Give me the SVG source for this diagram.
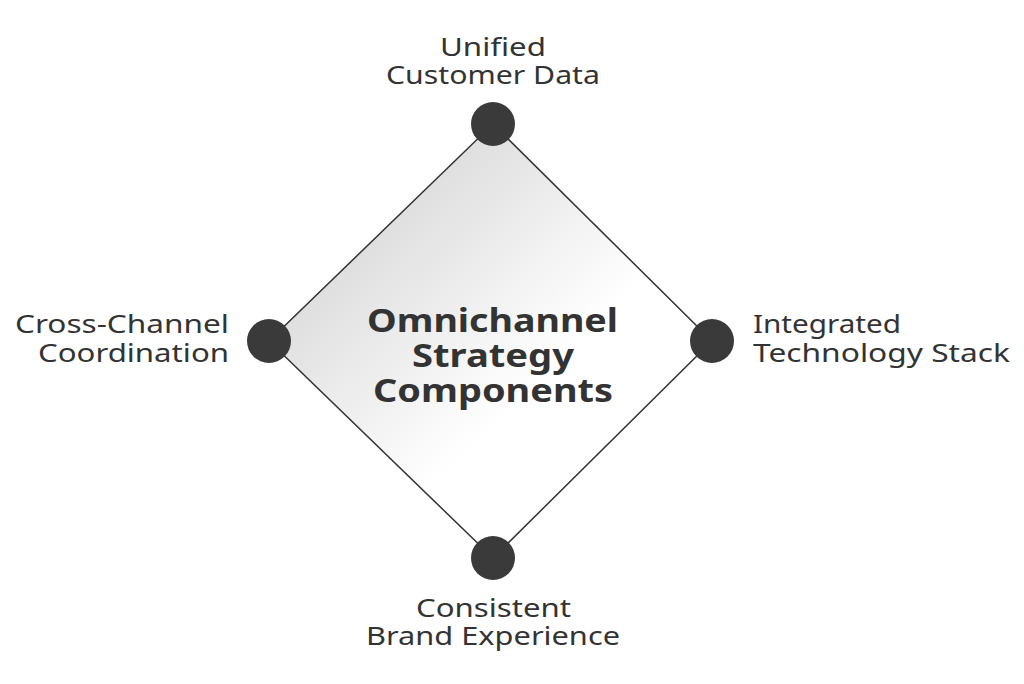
<svg xmlns="http://www.w3.org/2000/svg" width="1024" height="684" viewBox="0 0 1024 684">
<defs>
<linearGradient id="g" x1="0" y1="0" x2="1" y2="1">
<stop offset="0" stop-color="#c8c8c8"/>
<stop offset="0.6" stop-color="#ffffff"/>
<stop offset="1" stop-color="#ffffff"/>
</linearGradient>
<style>
.lbl{font-family:"Noto Sans",sans-serif;font-size:26px;fill:#333}
.ttl{font-family:"Noto Sans",sans-serif;font-weight:bold;font-size:33px;fill:#333}
.dot{fill:#3a3a3a}
</style>
</defs>
<rect width="1024" height="684" fill="#fff"/>
<g id="connectors">
<polygon points="493,124 712,341 493,558 269,341" fill="url(#g)" stroke="#333" stroke-width="1.5"/>
</g>
<g id="center">
<text class="ttl" x="367" y="332" textLength="251" lengthAdjust="spacingAndGlyphs">Omnichannel</text>
<text class="ttl" x="412" y="367" textLength="162" lengthAdjust="spacingAndGlyphs">Strategy</text>
<text class="ttl" x="373" y="402" textLength="240" lengthAdjust="spacingAndGlyphs">Components</text>
</g>
<g id="top"><circle class="dot" cx="493" cy="124" r="22"/>
<text class="lbl" x="440" y="56" textLength="106" lengthAdjust="spacingAndGlyphs">Unified</text>
<text class="lbl" x="386" y="84" textLength="214" lengthAdjust="spacingAndGlyphs">Customer Data</text></g>
<g id="right"><circle class="dot" cx="712" cy="341" r="22"/>
<text class="lbl" x="753" y="333" textLength="148" lengthAdjust="spacingAndGlyphs">Integrated</text>
<text class="lbl" x="753" y="362" textLength="257" lengthAdjust="spacingAndGlyphs">Technology Stack</text></g>
<g id="bottom"><circle class="dot" cx="493" cy="558" r="22"/>
<text class="lbl" x="416" y="617" textLength="155" lengthAdjust="spacingAndGlyphs">Consistent</text>
<text class="lbl" x="366" y="645" textLength="254" lengthAdjust="spacingAndGlyphs">Brand Experience</text></g>
<g id="left"><circle class="dot" cx="269" cy="341" r="22"/>
<text class="lbl" x="15" y="333" textLength="214" lengthAdjust="spacingAndGlyphs">Cross-Channel</text>
<text class="lbl" x="38" y="362" textLength="191" lengthAdjust="spacingAndGlyphs">Coordination</text></g>
</svg>
